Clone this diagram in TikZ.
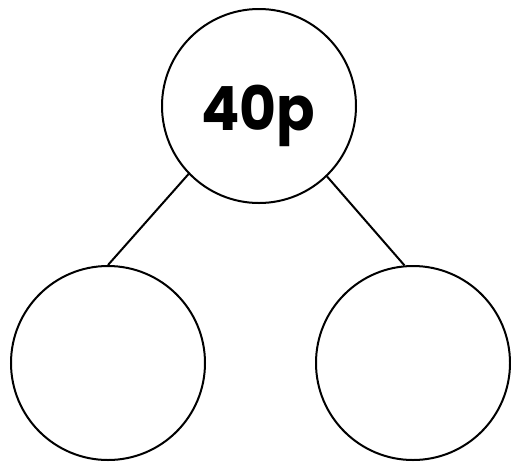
\documentclass[tikz,border=0pt]{standalone}
\usepackage{fontspec}
\newfontfamily\popb{Poppins}[UprightFont=* Bold]
\begin{document}
\begin{tikzpicture}[x=1pt,y=-1pt,
  ring/.style={circle,draw,line width=2pt,minimum size=194pt,inner sep=0pt},
  link/.style={line width=2pt}]
\useasboundingbox (0,0) rectangle (511,467);
\node[ring] (top) at (259,106) {};
\node[ring] (left) at (108,363) {};
\node[ring] (right) at (413,363) {};
\node[font=\popb\fontsize{61}{61}\selectfont,anchor=base,xscale=0.93] (lbl) at (258,130) {40p};
\draw[link] (top.224) -- (left.90);
\draw[link] (top.-46) -- (right.95);
\end{tikzpicture}
\end{document}
